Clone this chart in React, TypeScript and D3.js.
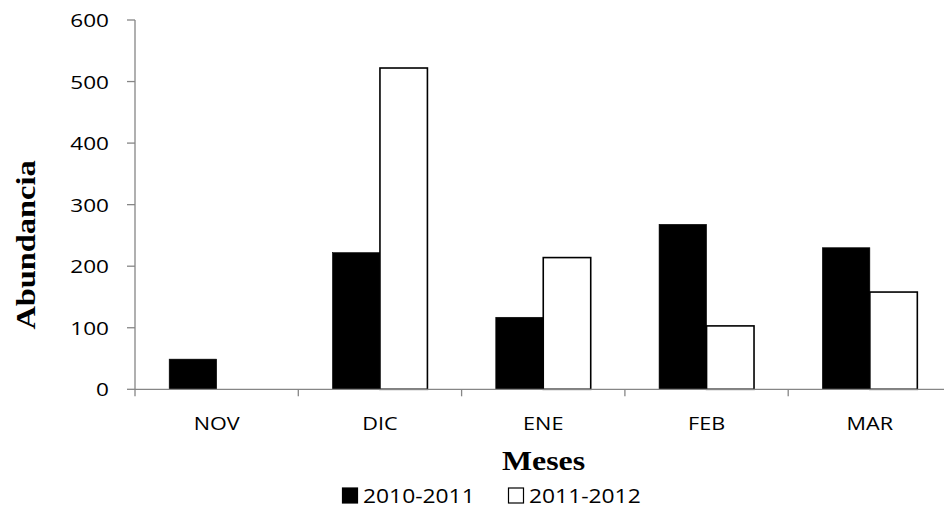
import React from "react";
import * as d3 from "d3";

const months = ["NOV", "DIC", "ENE", "FEB", "MAR"];
const seriesNames = ["2010-2011", "2011-2012"];
const values2010 = [49, 222, 117, 268, 230];
const values2011 = [0, 522, 214, 103, 158];
const yTicks = [0, 100, 200, 300, 400, 500, 600];

const W = 944;
const H = 516;
const left = 135;
const right = 951.5;
const top = 20;
const bottom = 389.3;

export default function App() {
  const x0 = d3.scaleBand<string>().domain(months).range([left, right]).padding(0);
  const x1 = d3
    .scaleBand<string>()
    .domain(seriesNames)
    .range([0, x0.bandwidth()])
    .paddingInner(0)
    .paddingOuter(0.72);
  const y = d3.scaleLinear().domain([0, 600]).range([bottom, top]);
  const axisColor = "#868686";
  const sans = "'Open Sans', sans-serif";
  const serif = "'Liberation Serif', 'Times New Roman', serif";
  const data = [values2010, values2011];
  const fills = ["#000000", "#ffffff"];

  const boundaries = d3.range(months.length + 1).map((i) => left + i * x0.step());

  return (
    <svg
      width={W}
      height={H}
      style={{ position: "absolute", left: 0, top: 0, background: "#fff" }}
    >
      {/* y axis */}
      <line x1={left} x2={left} y1={top} y2={bottom} stroke={axisColor} strokeWidth={1.3} />
      {yTicks.map((t) => (
        <g key={t}>
          <line x1={left - 8} x2={left} y1={y(t)} y2={y(t)} stroke={axisColor} strokeWidth={1.3} />
          <text
            transform={`translate(${109},${y(t) + 7}) scale(1.2,1)`}
            textAnchor="end"
            fontFamily={sans}
            fontSize={18.8}
            fill="#000"
          >
            {t}
          </text>
        </g>
      ))}
      {/* bars */}
      {months.map((m, i) => (
        <g key={m}>
          {seriesNames.map((s, j) =>
            data[j][i] > 0 ? (
              <rect
                key={s}
                x={(x0(m) as number) + (x1(s) as number)}
                y={y(data[j][i])}
                width={x1.bandwidth()}
                height={y(0) - y(data[j][i])}
                fill={fills[j]}
                stroke="#000"
                strokeWidth={j === 0 ? 0.6 : 1.6}
              />
            ) : null
          )}
        </g>
      ))}
      {/* x axis */}
      <line x1={left} x2={right} y1={bottom} y2={bottom} stroke={axisColor} strokeWidth={1.3} />
      {boundaries.map((b, i) => (
        <line key={i} x1={b} x2={b} y1={bottom} y2={bottom + 7} stroke={axisColor} strokeWidth={1.3} />
      ))}
      {months.map((m) => (
        <text
          key={m}
          transform={`translate(${(x0(m) as number) + x0.bandwidth() / 2},${430}) scale(1.15,1)`}
          textAnchor="middle"
          fontFamily={sans}
          fontSize={18.8}
          fill="#000"
        >
          {m}
        </text>
      ))}
      {/* axis titles */}
      <text
        transform={`translate(${543.5},${470}) scale(1.18,1)`}
        textAnchor="middle"
        fontFamily={serif}
        fontWeight="bold"
        fontSize={27}
        fill="#000"
      >
        Meses
      </text>
      <text
        transform={`translate(${35},${245}) rotate(-90) scale(1.2,1)`}
        textAnchor="middle"
        fontFamily={serif}
        fontWeight="bold"
        fontSize={27}
        fill="#000"
      >
        Abundancia
      </text>
      {/* legend */}
      {seriesNames.map((s, j) => {
        const lx = [342, 508][j];
        return (
          <g key={s}>
            <rect
              x={lx + 0.5}
              y={488}
              width={15}
              height={15}
              fill={fills[j]}
              stroke="#000"
              strokeWidth={1.2}
            />
            <text
              transform={`translate(${lx + 21},${503}) scale(1.17,1)`}
              fontFamily={sans}
              fontSize={19.5}
              fill="#000"
            >
              {s}
            </text>
          </g>
        );
      })}
    </svg>
  );
}
